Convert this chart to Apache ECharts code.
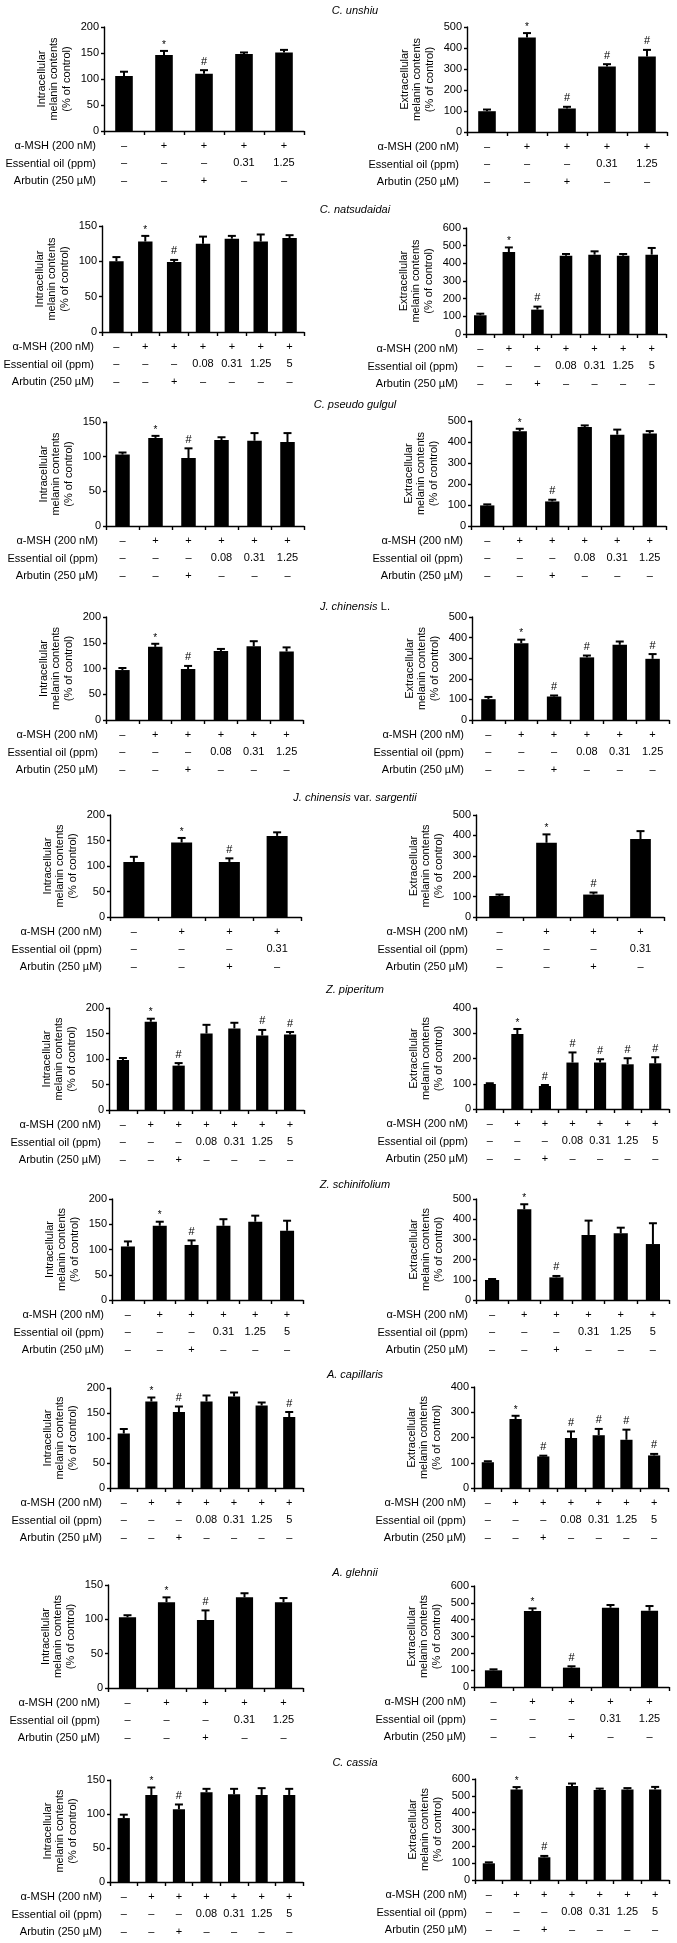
<!DOCTYPE html>
<html><head><meta charset="utf-8">
<script src="https://cdn.jsdelivr.net/npm/echarts@6/dist/echarts.min.js"></script>
<style>html,body{margin:0;padding:0;background:#fff}#c{width:677px;height:1943px}</style>
</head><body><div id="c"></div>
<script>
// ---------------- DATA ----------------
const species = ['C. unshiu','C. natsudaidai','C. pseudo gulgul','J. chinensis L.','J. chinensis var. sargentii','Z. piperitum','Z. schinifolium','A. capillaris','A. glehnii','C. cassia'];
const rowHeaders = ['\u03b1-MSH (200 nM)','Essential oil (ppm)','Arbutin (250 \u00b5M)'];
const D = '\u2013';
const alphaMSH = [
  [D,'+','+','+','+'],
  [D,'+','+','+','+','+','+'],
  [D,'+','+','+','+','+'],
  [D,'+','+','+','+','+'],
  [D,'+','+','+'],
  [D,'+','+','+','+','+','+'],
  [D,'+','+','+','+','+'],
  [D,'+','+','+','+','+','+'],
  [D,'+','+','+','+'],
  [D,'+','+','+','+','+','+']
];
const essentialOil = [
  [D,D,D,'0.31','1.25'],
  [D,D,D,'0.08','0.31','1.25','5'],
  [D,D,D,'0.08','0.31','1.25'],
  [D,D,D,'0.08','0.31','1.25'],
  [D,D,D,'0.31'],
  [D,D,D,'0.08','0.31','1.25','5'],
  [D,D,D,'0.31','1.25','5'],
  [D,D,D,'0.08','0.31','1.25','5'],
  [D,D,D,'0.31','1.25'],
  [D,D,D,'0.08','0.31','1.25','5']
];
const arbutin = [
  [D,D,'+',D,D],
  [D,D,'+',D,D,D,D],
  [D,D,'+',D,D,D],
  [D,D,'+',D,D,D],
  [D,D,'+',D],
  [D,D,'+',D,D,D,D],
  [D,D,'+',D,D,D],
  [D,D,'+',D,D,D,D],
  [D,D,'+',D,D],
  [D,D,'+',D,D,D,D]
];
const intraMean = [
  [106,146,110,148,151],
  [100,128,99,125,132,128,133],
  [103,127,98,124,123,121],
  [97,142,99,134,143,133],
  [108,146,108,159],
  [98,173,87,150,160,146,148],
  [106,147,109,147,155,137],
  [109,173,152,173,183,165,142],
  [103,125,99,132,125],
  [94,128,107,132,129,128,128]
];
const intraSD = [
  [8,8,7,3,5],
  [6,8,3,10,4,10,4],
  [3,3,14,4,11,13],
  [4,6,6,4,10,8],
  [10,9,7,7],
  [4,6,5,17,11,11,5],
  [10,8,9,13,12,20],
  [9,8,11,12,8,6,10],
  [3,7,14,6,6],
  [5,11,7,5,8,10,9]
];
const intraMark = [
  ['','*','#','',''],
  ['','*','#','','','',''],
  ['','*','#','','',''],
  ['','*','#','','',''],
  ['','*','#',''],
  ['','*','#','','','#','#'],
  ['','*','#','','',''],
  ['','*','#','','','','#'],
  ['','*','#','',''],
  ['','*','#','','','','']
];
const intraMax = [200,150,150,200,200,200,200,200,150,150];
const extraMean = [
  [99,450,112,312,359],
  [106,464,138,443,449,443,449],
  [98,451,117,471,435,440],
  [101,373,114,304,365,297],
  [103,364,110,382],
  [99,297,91,184,184,177,181],
  [99,449,112,322,330,277],
  [102,273,125,198,209,191,129],
  [99,451,115,471,453],
  [99,537,135,558,535,538,538]
];
const extraSD = [
  [8,21,8,11,32],
  [9,26,17,10,19,10,38],
  [5,12,8,8,24,12],
  [11,17,5,9,16,23],
  [7,41,10,39],
  [3,20,4,40,13,24,24],
  [5,25,7,71,28,103],
  [4,13,3,26,25,40,6],
  [6,16,8,16,28],
  [6,15,8,15,8,8,15]
];
const extraMark = [
  ['','*','#','#','#'],
  ['','*','#','','','',''],
  ['','*','#','','',''],
  ['','*','#','#','','#'],
  ['','*','#',''],
  ['','*','#','#','#','#','#'],
  ['','*','#','','',''],
  ['','*','#','#','#','#','#'],
  ['','*','#','',''],
  ['','*','#','','','','']
];
const extraMax = [500,600,500,500,500,400,500,400,600,600];
const intraName = 'Intracellular\nmelanin contents\n(% of control)';
const extraName = 'Extracellular\nmelanin contents\n(% of control)';

// ---------------- LAYOUT ----------------
const titleY = [11,210,405,607,798,990,1185,1375,1573,1763];
// [axisX, top, zeroY, endX] for left / right panel
const panelBox = [
  [[104,27,131,304],[467,27,132,667]],
  [[102,226,332,304],[466,228,334,666]],
  [[106,422,526,304],[471,421,526,666]],
  [[106,617,720,303],[472,617,720,669]],
  [[110,815,917,301],[476,815,917,664]],
  [[109,1008,1110,304],[476,1008,1109,669]],
  [[112,1199,1300,303],[476,1199,1300,669]],
  [[110,1388,1488,303],[474,1387,1488,668]],
  [[108,1585,1688,303],[474,1586,1687,669]],
  [[110,1780,1882,303],[475,1779,1880,669]]
];
const FONT = '"Liberation Sans", Arial, Helvetica, sans-serif';

const grids = [], xAxes = [], yAxes = [], series = [], graphics = [];

function richTitle(s) {
  if (s === 'J. chinensis L.') return '{i|J. chinensis} {n|L.}';
  if (s === 'J. chinensis var. sargentii') return '{i|J. chinensis} {n|var.} {i|sargentii}';
  return '{i|' + s + '}';
}

for (let r = 0; r < species.length; r++) {
  graphics.push({
    type: 'text', x: 355, y: titleY[r],
    style: {
      text: richTitle(species[r]), align: 'center', verticalAlign: 'middle',
      rich: {
        i: {fontStyle: 'italic', fontSize: 11, fontFamily: FONT, fill: '#000'},
        n: {fontSize: 11, fontFamily: FONT, fill: '#000'}
      }
    }
  });
  for (let side = 0; side < 2; side++) {
    const k = grids.length;
    const [ax, top, y0, ex] = panelBox[r][side];
    const means = side ? extraMean[r] : intraMean[r];
    const sds = side ? extraSD[r] : intraSD[r];
    const marks = side ? extraMark[r] : intraMark[r];
    const ymax = side ? extraMax[r] : intraMax[r];
    const cats = alphaMSH[r].map((m, i) => m + '\n' + essentialOil[r][i] + '\n' + arbutin[r][i]);
    grids.push({left: ax, top: top, width: ex - ax, height: y0 - top, containLabel: false, outerBoundsMode: 'none'});
    xAxes.push({
      type: 'category', gridIndex: k, data: cats, boundaryGap: true,
      axisLine: {show: true, lineStyle: {color: '#000', width: 1.4}},
      axisTick: {show: true, length: 4, inside: false, lineStyle: {color: '#000', width: 1.4}},
      axisLabel: {interval: 0, margin: 6, fontSize: 11, lineHeight: 17.5, color: '#000', fontFamily: FONT}
    });
    yAxes.push({
      type: 'value', gridIndex: k, min: 0, max: ymax, interval: ymax <= 200 ? 50 : 100,
      splitLine: {show: false},
      axisLine: {show: true, lineStyle: {color: '#000', width: 1.4}},
      axisTick: {show: true, length: 3, lineStyle: {color: '#000', width: 1.4}},
      axisLabel: {fontSize: 11, margin: 5, color: '#000', fontFamily: FONT},
      name: side ? extraName : intraName, nameLocation: 'middle', nameGap: 31,
      nameMoveOverlap: false,
      nameTextStyle: {fontSize: 11, lineHeight: 12.5, color: '#000', fontFamily: FONT}
    });
    series.push({
      type: 'bar', xAxisIndex: k, yAxisIndex: k, data: means, barWidth: (r === 1 && side === 0) ? '50%' : '44%',
      itemStyle: {color: '#000'}, silent: true
    });
    series.push({
      type: 'custom', xAxisIndex: k, yAxisIndex: k, silent: true, z: 5,
      data: means.map((m, i) => [i, m, sds[i]]),
      encode: {x: 0, y: 1},
      renderItem: function (params, api) {
        const i = api.value(0), m = api.value(1), s = api.value(2);
        const p0 = api.coord([i, m]);
        const p1 = api.coord([i, m + s]);
        const children = [
          {type: 'line', shape: {x1: p0[0], y1: p0[1], x2: p1[0], y2: p1[1]}, style: {stroke: '#000', lineWidth: 2}},
          {type: 'line', shape: {x1: p1[0] - 4, y1: p1[1], x2: p1[0] + 4, y2: p1[1]}, style: {stroke: '#000', lineWidth: 2}}
        ];
        const mk = marks[params.dataIndex];
        if (mk) {
          children.push({type: 'text', x: p1[0], y: p1[1] - (mk === '*' ? 1 : 3),
            style: {text: mk, align: 'center', verticalAlign: 'bottom', fontSize: mk === '*' ? 10 : 11, fontFamily: FONT, fill: '#000'}});
        }
        return {type: 'group', children: children};
      }
    });
    for (let h = 0; h < 3; h++) {
      graphics.push({
        type: 'text', x: ax - 8, y: y0 + 15 + h * 17.5,
        style: {text: rowHeaders[h], align: 'right', verticalAlign: 'middle', fontSize: 11, fontFamily: FONT, fill: '#000'}
      });
    }
  }
}

const chart = echarts.init(document.getElementById('c'), null, {renderer: 'canvas', width: 677, height: 1943});
chart.setOption({
  backgroundColor: '#fff',
  animation: false,
  grid: grids, xAxis: xAxes, yAxis: yAxes, series: series, graphic: graphics
});
</script></body></html>
